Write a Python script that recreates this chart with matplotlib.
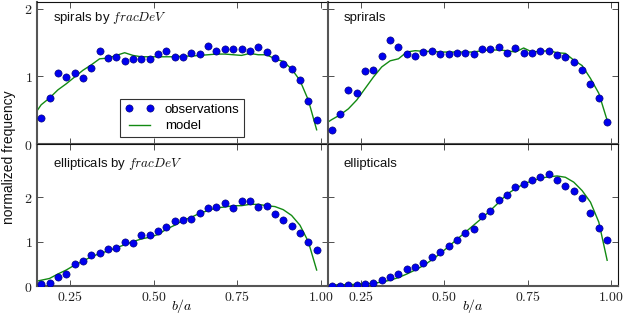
import numpy as np
import matplotlib
matplotlib.use("Agg")
import matplotlib.pyplot as plt
from matplotlib.ticker import FuncFormatter, FixedLocator

plt.rcParams['font.family'] = ['Liberation Sans', 'DejaVu Sans']
plt.rcParams['mathtext.fontset'] = 'cm'

# bin centres of b/a
x_obs = np.arange(0.1625, 1.0, 0.025)
x_mod = np.arange(0.1375, 1.0, 0.025)

spiral_frac_obs = [0.38, 0.68, 1.05, 0.99, 1.05, 0.98, 1.13, 1.37, 1.27, 1.28, 1.23, 1.26,
                   1.25, 1.25, 1.33, 1.37, 1.28, 1.28, 1.34, 1.33, 1.45, 1.38, 1.40, 1.40,
                   1.40, 1.37, 1.43, 1.36, 1.27, 1.18, 1.11, 0.95, 0.63, 0.35]
spiral_frac_mod = [0.40, 0.58, 0.68, 0.80, 0.89, 0.99, 1.09, 1.17, 1.26, 1.27, 1.31, 1.35,
                   1.31, 1.29, 1.29, 1.29, 1.29, 1.29, 1.30, 1.30, 1.31, 1.32, 1.33, 1.33,
                   1.32, 1.31, 1.34, 1.32, 1.32, 1.26, 1.22, 1.11, 0.94, 0.65, 0.21]

spiral_obs = [0.20, 0.45, 0.80, 0.75, 1.08, 1.09, 1.30, 1.54, 1.44, 1.33, 1.30, 1.36,
              1.37, 1.33, 1.33, 1.35, 1.35, 1.33, 1.41, 1.41, 1.43, 1.35, 1.42, 1.35,
              1.35, 1.38, 1.38, 1.31, 1.28, 1.21, 1.09, 0.88, 0.68, 0.33]
spiral_mod = [0.28, 0.36, 0.43, 0.52, 0.65, 0.82, 0.99, 1.14, 1.23, 1.26, 1.36, 1.38,
              1.37, 1.37, 1.36, 1.36, 1.36, 1.36, 1.36, 1.38, 1.39, 1.39, 1.38, 1.36,
              1.42, 1.36, 1.37, 1.38, 1.35, 1.34, 1.24, 1.16, 0.97, 0.75, 0.35]

ellip_frac_obs = [0.04, 0.07, 0.20, 0.28, 0.50, 0.56, 0.70, 0.75, 0.83, 0.86, 1.00, 0.97,
                  1.16, 1.16, 1.25, 1.34, 1.46, 1.49, 1.51, 1.65, 1.76, 1.78, 1.86, 1.75,
                  1.92, 1.91, 1.78, 1.80, 1.63, 1.49, 1.36, 1.20, 1.00, 0.81]
ellip_frac_mod = [0.09, 0.13, 0.17, 0.27, 0.36, 0.47, 0.56, 0.66, 0.73, 0.79, 0.86, 0.93,
                  1.00, 1.06, 1.10, 1.16, 1.28, 1.37, 1.48, 1.55, 1.64, 1.70, 1.76, 1.78,
                  1.81, 1.81, 1.84, 1.84, 1.81, 1.79, 1.72, 1.59, 1.37, 1.00, 0.36]

ellip_obs = [0.01, 0.01, 0.02, 0.03, 0.04, 0.07, 0.14, 0.20, 0.28, 0.38, 0.43, 0.51,
             0.66, 0.77, 0.90, 1.03, 1.20, 1.29, 1.57, 1.69, 1.94, 2.06, 2.24, 2.30,
             2.40, 2.46, 2.53, 2.39, 2.25, 2.13, 1.98, 1.64, 1.31, 1.04]
ellip_mod = [0.02, 0.02, 0.03, 0.03, 0.04, 0.05, 0.06, 0.09, 0.13, 0.19, 0.27, 0.36,
             0.46, 0.59, 0.73, 0.89, 1.05, 1.21, 1.37, 1.53, 1.70, 1.88, 2.07, 2.19,
             2.30, 2.37, 2.43, 2.46, 2.48, 2.45, 2.34, 2.15, 1.89, 1.44, 0.58]

labels = ["spirals by $fracDeV$", "sprirals", "ellipticals by $fracDeV$", "ellipticals"]
obs_all = [spiral_frac_obs, spiral_obs, ellip_frac_obs, ellip_obs]
mod_all = [spiral_frac_mod, spiral_mod, ellip_frac_mod, ellip_mod]
xticks = [0.25, 0.50, 0.75, 1.00]

fig = plt.figure(figsize=(6.23, 3.16), dpi=100)
L, R, B, T = 37/623, 618/623, 1 - 286/316, 1 - 2/316
W = (R - L) / 2
H = (T - B) / 2
axes = [fig.add_axes([L, B + H, W, H]), fig.add_axes([L + W, B + H, W, H]),
        fig.add_axes([L, B, W, H]), fig.add_axes([L + W, B, W, H])]

fmt = FuncFormatter(lambda v, p: r'$%.2f$' % v)
yfmt = FuncFormatter(lambda v, p: r'$%d$' % v)

for i, ax in enumerate(axes):
    ax.plot(x_obs, obs_all[i], 'o', color='#0000ee', markeredgecolor='#000066',
            markeredgewidth=0.4, markersize=5.2, label='observations', zorder=3)
    ax.plot(x_mod, mod_all[i], '-', color='#128a12', lw=1.0, label='model', zorder=2)
    ax.set_xlim(0.15, 1.02)
    if i < 2:
        ax.set_ylim(0, 2.1)
    else:
        ax.set_ylim(0, 3.2)
    ax.yaxis.set_major_locator(FixedLocator([0, 1, 2]))
    ax.xaxis.set_major_locator(FixedLocator(xticks))
    ax.tick_params(direction='in', top=True, right=True, length=4, width=0.6,
                   colors='#333333', labelsize=10, pad=3)
    ax.tick_params(labelcolor='#222222')
    ax.xaxis.set_major_formatter(fmt)
    ax.yaxis.set_major_formatter(yfmt)
    for s in ['left', 'bottom']:
        ax.spines[s].set_color('#555555')
        ax.spines[s].set_linewidth(1.5)
    for s in ['top', 'right']:
        ax.spines[s].set_color('#111111')
        ax.spines[s].set_linewidth(0.8)
    if i < 2:
        ax.tick_params(labelbottom=False)
    if i % 2 == 1:
        ax.tick_params(labelleft=False)
    ax.text(0.055, 0.885 if i < 2 else 0.86, labels[i], transform=ax.transAxes,
            fontsize=9.5, va='center', ha='left', color='#111111')
    if i >= 2:
        ax.set_xlabel('$b/a$', fontsize=10, va='center')
        ax.xaxis.set_label_coords(0.5, -(306 - 286) / 142)

leg = axes[0].legend(loc='lower center', bbox_to_anchor=(0.5, 0.05), numpoints=2,
                     fontsize=9.5, frameon=True, fancybox=False, borderpad=0.35,
                     handlelength=2.2, handletextpad=0.8, labelspacing=0.3,
                     borderaxespad=0)
leg.get_frame().set_edgecolor('black')
leg.get_frame().set_linewidth(0.8)

fig.text(0.014, 1 - 157/316, 'normalized frequency', rotation=90, ha='center',
         va='center', fontsize=10, color='#111111')

fig.savefig('out.png', dpi=100)
